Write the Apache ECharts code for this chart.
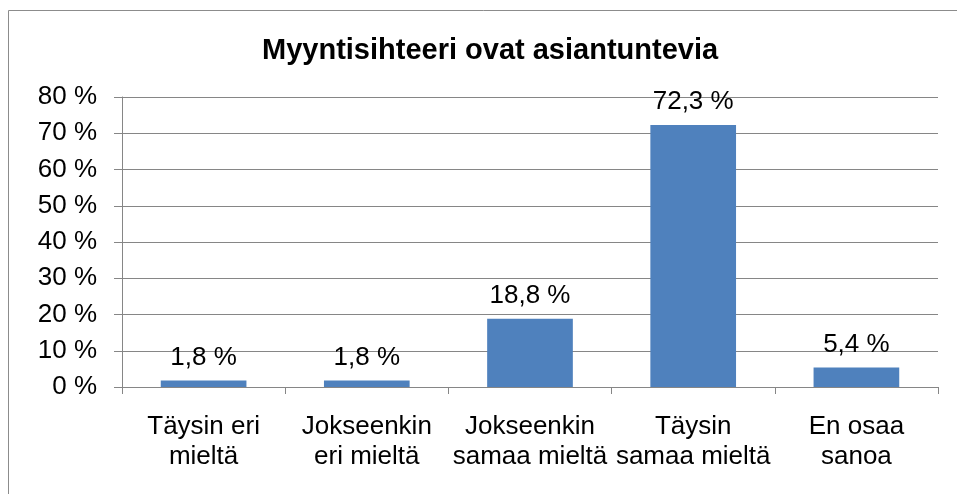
<!DOCTYPE html>
<html>
<head>
<meta charset="utf-8">
<script src="https://cdn.jsdelivr.net/npm/echarts@6/dist/echarts.min.js"></script>
<style>html,body{margin:0;padding:0;background:#fff;}#c{width:957px;height:494px;}</style>
</head>
<body>
<div id="c"></div>
<script>
var titleText = 'Myyntisihteeri ovat asiantuntevia';
var categories = ['Täysin eri\nmieltä', 'Jokseenkin\neri mieltä', 'Jokseenkin\nsamaa mieltä', 'Täysin\nsamaa mieltä', 'En osaa\nsanoa'];
var values = [1.8, 1.8, 18.8, 72.3, 5.4];
var yTicks = [0, 10, 20, 30, 40, 50, 60, 70, 80];

var chart = echarts.init(document.getElementById('c'), null, {renderer: 'canvas'});
var font = 'Liberation Sans, Arial, sans-serif';
var lineCol = '#868686';
chart.setOption({
  animation: false,
  backgroundColor: '#fff',
  graphic: [{
    type: 'rect', silent: true, z: 100,
    shape: {x: 8.5, y: 10.5, width: 1200, height: 1200},
    style: {fill: 'none', stroke: '#8c8c8c', lineWidth: 1}
  }],
  title: {
    text: titleText, left: 257, top: 31,
    textStyle: {fontFamily: font, fontSize: 29, fontWeight: 'bold', color: '#000'}
  },
  grid: {left: 122, right: 19, top: 97, bottom: 107, containLabel: false},
  xAxis: {
    type: 'category', data: categories,
    axisLine: {lineStyle: {color: lineCol, width: 1}},
    axisTick: {show: true, length: 7, lineStyle: {color: lineCol}},
    axisLabel: {fontFamily: font, fontSize: 26, color: '#000', margin: 25, lineHeight: 30, interval: 0}
  },
  yAxis: {
    type: 'value', min: yTicks[0], max: yTicks[yTicks.length - 1], interval: 10,
    axisLine: {show: true, lineStyle: {color: lineCol, width: 1}},
    axisTick: {show: true, length: 8, lineStyle: {color: lineCol}},
    splitLine: {show: true, lineStyle: {color: lineCol, width: 1}},
    axisLabel: {fontFamily: font, fontSize: 26, color: '#000', margin: 25,
      formatter: function (v) { return v + ' %'; }}
  },
  series: [{
    type: 'bar', data: values, barWidth: '52.5%',
    itemStyle: {color: '#4F81BD'},
    label: {show: true, position: 'top', distance: 10, fontFamily: font, fontSize: 26, color: '#000',
      formatter: function (p) { return p.value.toFixed(1).replace('.', ',') + ' %'; }}
  }]
});
</script>
</body>
</html>
